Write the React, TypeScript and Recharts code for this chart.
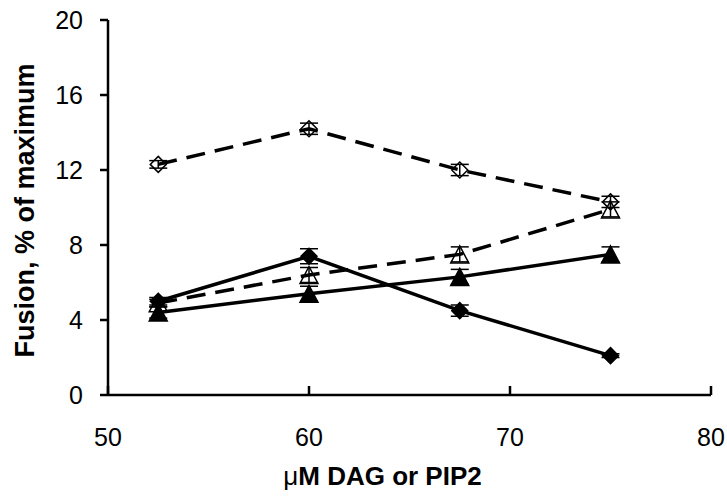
import React from 'react';
import { LineChart, Line, XAxis, YAxis, ErrorBar } from 'recharts';

// ─── data ─────────────────────────────────────────────────────────────────────

const conc = [52.5, 60, 67.5, 75];

const openDiamond    = [12.3, 14.2, 12.0, 10.3];
const openDiamondErr = [0.2, 0.3, 0.3, 0.3];

const openTriangle    = [4.9, 6.4, 7.5, 9.9];
const openTriangleErr = [0.2, 0.4, 0.4, 0.4];

const filledDiamond    = [5.0, 7.4, 4.5, 2.1];
const filledDiamondErr = [0.2, 0.4, 0.3, 0.1];

const filledTriangle    = [4.4, 5.4, 6.3, 7.5];
const filledTriangleErr = [0.3, 0.4, 0.4, 0.4];

const xTicks = [50, 60, 70, 80];
const yTicks = [0, 4, 8, 12, 16, 20];

const rows = conc.map((x, i) => ({
  x,
  od: openDiamond[i],    odErr: openDiamondErr[i],
  ot: openTriangle[i],   otErr: openTriangleErr[i],
  fd: filledDiamond[i],  fdErr: filledDiamondErr[i],
  ft: filledTriangle[i], ftErr: filledTriangleErr[i],
}));

const FONT = 'Arial, "Liberation Sans", sans-serif';

// ─── markers ──────────────────────────────────────────────────────────────────

const diamond = (filled: boolean) => (p: any) => {
  const { cx, cy, key } = p;
  if (cx == null || cy == null) return null;
  const r = 8;
  return (
    <polygon
      key={key}
      points={`${cx},${cy - r} ${cx + r},${cy} ${cx},${cy + r} ${cx - r},${cy}`}
      fill={filled ? '#000' : 'none'}
      stroke="#000"
      strokeWidth={1.5}
    />
  );
};

const triangle = (filled: boolean) => (p: any) => {
  const { cx, cy, key } = p;
  if (cx == null || cy == null) return null;
  const w = 9, h = 8.5;
  return (
    <polygon
      key={key}
      points={`${cx},${cy - h} ${cx + w},${cy + h} ${cx - w},${cy + h}`}
      fill={filled ? '#000' : 'none'}
      stroke="#000"
      strokeWidth={1.5}
    />
  );
};

// x ticks point inward (upward)
const XTick = (p: any) => {
  const { x, y, payload } = p;
  return (
    <g>
      <line x1={x} x2={x} y1={y - 9} y2={y} stroke="#000" strokeWidth={2.5} />
      <text x={x} y={y + 51} textAnchor="middle" fontSize={25} fontFamily={FONT} fill="#000">
        {payload.value}
      </text>
    </g>
  );
};

const XTitle = (p: any) => {
  const vb = p.viewBox;
  return (
    <text x={vb.x + vb.width / 2 - 27} y={vb.y + 90} textAnchor="middle" fontSize={26} fontWeight="bold" fontFamily={FONT} fill="#000">
      <tspan fontWeight="normal">μ</tspan>M DAG or PIP2
    </text>
  );
};

const YTitle = (p: any) => {
  const vb = p.viewBox;
  const cx = 25, cy = vb.y + vb.height / 2 + 3;
  return (
    <text x={cx} y={cy} transform={`rotate(-90 ${cx} ${cy})`} textAnchor="middle" dominantBaseline="central" fontSize={27} fontWeight="bold" fontFamily={FONT} fill="#000">
      Fusion, % of maximum
    </text>
  );
};

export default function App() {
  return (
    <div style={{ position: 'absolute', left: 0, top: 0, width: 727, height: 499, background: '#fff' }}>
      <LineChart width={727} height={499} data={rows} margin={{ top: 20, right: 16, left: 0, bottom: 0 }}>
        <XAxis
          dataKey="x"
          type="number"
          domain={[50, 80]}
          ticks={xTicks}
          height={104}
          axisLine={{ stroke: '#000', strokeWidth: 2.5 }}
          tickLine={false}
          tickSize={0}
          tickMargin={0}
          tick={<XTick />}
          label={{ content: <XTitle /> }}
        />
        <YAxis
          type="number"
          domain={[0, 20]}
          ticks={yTicks}
          width={108}
          axisLine={{ stroke: '#000', strokeWidth: 2.5 }}
          tickLine={{ stroke: '#000', strokeWidth: 2.5 }}
          tickSize={8}
          tickMargin={17}
          tick={{ fontSize: 25, fill: '#000', fontFamily: FONT }}
          label={{ content: <YTitle /> }}
        />
        <Line dataKey="od" stroke="#000" strokeWidth={3.5} strokeDasharray="19 10" dot={diamond(false)} isAnimationActive={false}>
          <ErrorBar dataKey="odErr" width={9} stroke="#000" strokeWidth={1.5} direction="y" />
        </Line>
        <Line dataKey="ot" stroke="#000" strokeWidth={3.5} strokeDasharray="19 10" dot={triangle(false)} isAnimationActive={false}>
          <ErrorBar dataKey="otErr" width={9} stroke="#000" strokeWidth={1.5} direction="y" />
        </Line>
        <Line dataKey="fd" stroke="#000" strokeWidth={3.5} dot={diamond(true)} isAnimationActive={false}>
          <ErrorBar dataKey="fdErr" width={9} stroke="#000" strokeWidth={1.5} direction="y" />
        </Line>
        <Line dataKey="ft" stroke="#000" strokeWidth={3.5} dot={triangle(true)} isAnimationActive={false}>
          <ErrorBar dataKey="ftErr" width={9} stroke="#000" strokeWidth={1.5} direction="y" />
        </Line>
      </LineChart>
    </div>
  );
}
